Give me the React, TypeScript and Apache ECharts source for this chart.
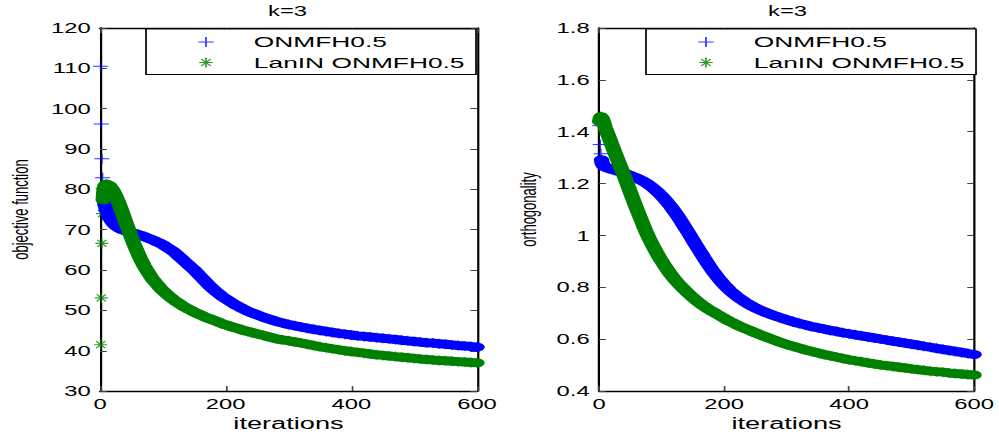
import React, { useEffect, useRef } from "react";
import * as echarts from "echarts";

// ---------- data ----------
const iterations = [
  1, 2, 3, 4, 5, 6, 7, 8,
  10, 15, 20, 25, 30, 35, 40, 45, 50, 55, 60, 65, 70, 75, 80, 85, 90, 95, 100, 105, 110, 115, 120, 125, 130, 135, 140, 145, 150, 155, 160, 165, 170, 175, 180, 185, 190, 195, 200, 205, 210, 215, 220, 225, 230, 235, 240, 245, 250,
  260, 270, 280, 290, 300, 310, 320, 330, 340, 350, 360, 370, 380, 390, 400, 410, 420, 430, 440, 450, 460, 470, 480, 490, 500, 510, 520, 530, 540, 550, 560, 570, 580, 590, 600,
];

const objONMFH = [
  110.5, 96.2, 87.6, 82.9, 80.2, 78.4, 77.2, 76.3,
  75.0, 73.0, 71.8, 71.0, 70.4, 70.0, 69.8, 69.6, 69.3, 69.1, 68.8, 68.6, 68.3, 68.0, 67.7, 67.4, 67.0, 66.7, 66.3, 65.8, 65.3, 64.8, 64.2, 63.5, 62.8, 62.1, 61.4, 60.7, 60.0, 59.2, 58.4, 57.6, 56.8, 56.0, 55.3, 54.6, 54.0, 53.4, 52.9, 52.4, 51.9, 51.4, 51.0, 50.6, 50.2, 49.8, 49.5, 49.2, 48.9,
  48.3, 47.8, 47.3, 46.9, 46.5, 46.2, 45.9, 45.6, 45.3, 45.05, 44.8, 44.55, 44.3, 44.1, 43.9, 43.7, 43.55, 43.4, 43.25, 43.1, 42.95, 42.8, 42.6, 42.45, 42.3, 42.15, 42.0, 41.9, 41.75, 41.6, 41.45, 41.3, 41.2, 41.05, 40.9,
];

const objLanIN = [
  41.5, 53.1, 66.6, 74.0, 77.4, 79.4, 80.5, 81.0,
  81.3, 80.9, 79.9, 78.4, 76.6, 74.5, 72.3, 70.2, 68.1, 66.1, 64.3, 62.6, 61.1, 59.8, 58.6, 57.5, 56.6, 55.7, 54.9, 54.2, 53.5, 52.9, 52.3, 51.8, 51.3, 50.8, 50.4, 50.0, 49.6, 49.2, 48.9, 48.5, 48.2, 47.9, 47.6, 47.3, 47.0, 46.7, 46.4, 46.2, 45.9, 45.7, 45.5, 45.2, 45.0, 44.8, 44.6, 44.4, 44.2,
  43.8, 43.4, 43.0, 42.7, 42.5, 42.2, 41.9, 41.6, 41.3, 41.0, 40.75, 40.5, 40.25, 40.0, 39.8, 39.6, 39.4, 39.2, 39.0, 38.85, 38.7, 38.55, 38.4, 38.25, 38.1, 37.95, 37.85, 37.7, 37.6, 37.5, 37.4, 37.3, 37.2, 37.1, 37.0,
];

const orthONMFH = [
  1.423, 1.351, 1.315, 1.292, 1.28, 1.274, 1.27, 1.267,
  1.264, 1.259, 1.255, 1.252, 1.248, 1.244, 1.24, 1.236, 1.232, 1.227, 1.222, 1.216, 1.21, 1.203, 1.195, 1.186, 1.176, 1.165, 1.153, 1.14, 1.126, 1.111, 1.095, 1.078, 1.06, 1.041, 1.022, 1.003, 0.983, 0.963, 0.944, 0.925, 0.906, 0.888, 0.87, 0.854, 0.838, 0.824, 0.81, 0.798, 0.786, 0.776, 0.766, 0.757, 0.749, 0.741, 0.734, 0.727, 0.721,
  0.71, 0.7, 0.691, 0.683, 0.675, 0.668, 0.661, 0.655, 0.649, 0.644, 0.639, 0.634, 0.63, 0.625, 0.621, 0.617, 0.613, 0.609, 0.605, 0.601, 0.597, 0.593, 0.589, 0.585, 0.581, 0.577, 0.573, 0.569, 0.565, 0.561, 0.557, 0.553, 0.549, 0.545, 0.541,
];

const orthLanIN = [
  1.44, 1.452, 1.458, 1.458, 1.452, 1.446, 1.44, 1.432,
  1.415, 1.385, 1.354, 1.322, 1.292, 1.262, 1.232, 1.2, 1.168, 1.136, 1.105, 1.075, 1.045, 1.016, 0.99, 0.966, 0.943, 0.922, 0.902, 0.884, 0.866, 0.849, 0.834, 0.82, 0.807, 0.795, 0.783, 0.772, 0.761, 0.751, 0.741, 0.732, 0.724, 0.716, 0.709, 0.702, 0.695, 0.688, 0.681, 0.674, 0.668, 0.662, 0.656, 0.65, 0.645, 0.64, 0.635, 0.63, 0.625,
  0.615, 0.606, 0.597, 0.588, 0.58, 0.573, 0.566, 0.559, 0.553, 0.547, 0.541, 0.536, 0.531, 0.526, 0.521, 0.517, 0.513, 0.509, 0.505, 0.501, 0.498, 0.495, 0.492, 0.489, 0.486, 0.483, 0.48, 0.477, 0.475, 0.473, 0.47, 0.468, 0.466, 0.464, 0.462,
];

const seriesNames = ["ONMFH0.5", "LanIN ONMFH0.5"];
const titles = ["k=3", "k=3"];
const yNames = ["objective function", "orthogonality"];
const xName = "iterations";
const yRanges = [
  { min: 30, max: 120, interval: 10 },
  { min: 0.4, max: 1.8, interval: 0.2 },
];
const xRange = { min: 0, max: 600, interval: 200 };

// ---------- layout (the reference is a horizontally stretched figure) ----------
const S = 999 / 588;
const sx = (v: number) => v / S;
const BLUE = "#0000ff";
const GREEN = "#008000";
const FONT = "'Liberation Sans', Arial, Helvetica, sans-serif";

const PLUS = "path://M0,5L10,5M5,0L5,10";
const STAR = "path://M0,5L10,5M5,0L5,10M1.5,1.5L8.5,8.5M1.5,8.5L8.5,1.5";
const PLUS_ICON = "path://M0,0M46.4,14M18.7,7L27.7,7M23.2,2L23.2,12";
const STAR_ICON = "path://M0,0M46.4,14M19.2,7L27.2,7M23.2,2L23.2,12M20.4,3.5L26,10.5M20.4,10.5L26,3.5";

const plotsX = [
  { l: 100, r: 477, legendL: 146, titleC: 287.5, nameGap: 40 },
  { l: 599, r: 977, legendL: 646, titleC: 787.5, nameGap: 35 },
];

function pairs(values: number[], start: number) {
  const out: number[][] = [];
  for (let i = start; i < iterations.length; i++) out.push([iterations[i], values[i]]);
  return out;
}

function curve(values: number[], gi: number, name: string, color: string, sym: string, symW: number, bandStart: number) {
  return [
    {
      type: "line",
      xAxisIndex: 2 * gi,
      yAxisIndex: 2 * gi,
      data: pairs(values, bandStart),
      symbol: "none",
      showSymbol: false,
      lineStyle: { color, width: 9, cap: "round", join: "round" },
      itemStyle: { color },
      silent: true,
    },
    {
      type: "scatter",
      name,
      xAxisIndex: 2 * gi,
      yAxisIndex: 2 * gi,
      data: pairs(values, 0),
      symbol: sym,
      symbolSize: [symW, 10],
      itemStyle: { color: "rgba(0,0,0,0)", borderColor: color, borderWidth: 1 },
      clip: false,
      silent: true,
    },
  ];
}

export default function App() {
  const ref = useRef<HTMLDivElement>(null);
  useEffect(() => {
    if (!ref.current) return;
    const chart = echarts.init(ref.current, undefined, { renderer: "svg" });
    const axisLine = { show: true, onZero: false, lineStyle: { color: "#000", width: 1.3 } };
    const tickStyle = { color: "#444", width: 1 };
    const xAxes: any[] = [];
    const yAxes: any[] = [];
    [0, 1].forEach((g) => {
      xAxes.push({
        gridIndex: g, type: "value", position: "bottom", ...xRange,
        name: xName, nameLocation: "middle", nameGap: 21,
        nameTextStyle: { fontSize: 16, color: "#000", fontFamily: FONT },
        axisLine, axisTick: { show: true, inside: true, length: 5, lineStyle: tickStyle },
        axisLabel: { fontSize: 14, color: "#000", fontFamily: FONT, margin: 6 },
        splitLine: { show: false },
      });
      xAxes.push({
        gridIndex: g, type: "value", position: "top", ...xRange,
        axisLine, axisTick: { show: true, inside: true, length: 5, lineStyle: tickStyle },
        axisLabel: { show: false }, splitLine: { show: false },
      });
      yAxes.push({
        gridIndex: g, type: "value", position: "left", ...yRanges[g],
        name: yNames[g], nameLocation: "middle", nameGap: plotsX[g].nameGap,
        nameTextStyle: { fontSize: 13, color: "#000", fontFamily: FONT },
        axisLine, axisTick: { show: true, inside: true, length: 4, lineStyle: tickStyle },
        axisLabel: { fontSize: 14, color: "#000", fontFamily: FONT, margin: 5.5 },
        splitLine: { show: false },
      });
      yAxes.push({
        gridIndex: g, type: "value", position: "right", ...yRanges[g],
        axisLine, axisTick: { show: true, inside: true, length: 4, lineStyle: tickStyle },
        axisLabel: { show: false }, splitLine: { show: false },
      });
    });

    const option: any = {
      animation: false,
      backgroundColor: "#fff",
      title: [0, 1].map((g) => ({
        text: titles[g],
        left: sx(plotsX[g].titleC),
        top: 4,
        padding: 0,
        textAlign: "center",
        textStyle: { fontSize: 14, fontWeight: "normal", color: "#000", fontFamily: FONT },
      })),
      grid: [0, 1].map((g) => ({
        left: sx(plotsX[g].l),
        top: 28,
        width: sx(plotsX[g].r) - sx(plotsX[g].l),
        height: 367,
        containLabel: false,
      })),
      legend: [0, 1].map((g) => ({
        orient: "vertical",
        left: sx(plotsX[g].legendL),
        top: 29,
        padding: [5, 6.7, 4, 11.6],
        itemGap: 4.5,
        itemWidth: 46.4,
        itemHeight: 14,
        borderColor: "#000",
        borderWidth: 1,
        backgroundColor: "#fff",
        selectedMode: false,
        textStyle: { fontSize: 15.5, color: "#000", fontFamily: FONT },
        data: [
          { name: seriesNames[0], icon: PLUS_ICON, itemStyle: { color: "rgba(0,0,0,0)", borderColor: BLUE, borderWidth: 1 } },
          { name: seriesNames[1], icon: STAR_ICON, itemStyle: { color: "rgba(0,0,0,0)", borderColor: GREEN, borderWidth: 1 } },
        ],
      })),
      xAxis: xAxes,
      yAxis: yAxes,
      series: [
        ...curve(objONMFH, 0, seriesNames[0], BLUE, PLUS, sx(15), 5),
        ...curve(objLanIN, 0, seriesNames[1], GREEN, STAR, sx(13), 4),
        ...curve(orthONMFH, 1, seriesNames[0], BLUE, PLUS, sx(15), 3),
        ...curve(orthLanIN, 1, seriesNames[1], GREEN, STAR, sx(13), 0),
      ],
    };
    chart.setOption(option);
    return () => chart.dispose();
  }, []);

  return (
    <div
      ref={ref}
      style={{
        position: "fixed",
        left: 0,
        top: 0,
        width: 588,
        height: 437,
        transform: `scaleX(${S})`,
        transformOrigin: "0 0",
        background: "#fff",
      }}
    />
  );
}
